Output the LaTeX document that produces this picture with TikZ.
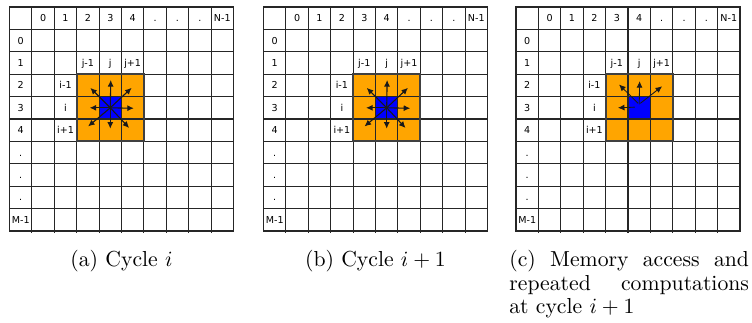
\documentclass[tikz,border=0pt]{standalone}
\usepackage{fontspec}
\newfontfamily\gridfont{DejaVu Sans}
\usetikzlibrary{arrows.meta}
\definecolor{cellorange}{RGB}{255,165,0}
\definecolor{cellblue}{RGB}{0,0,255}

% one 10x10 memory grid: #1 name prefix, #2 x shift, #3 column of the 3x3 block
\newcommand{\memgrid}[3]{%
  \begin{scope}[shift={(#2,0.3125)}]
    \fill[cellorange] (#3,3) rectangle ++(3,3);
    \fill[cellblue] (#3+1,4) rectangle ++(1,1);
    \foreach \k in {1,...,9} {
      \draw[gridline] (\k,0) -- (\k,10.09);
      \draw[gridline] (0,\k) -- (10,\k);
    }
    \draw[gridline] (0,0) rectangle (10,10);
    \draw[blockline] (#3,3) rectangle ++(3,3);
    \foreach \t [count=\k] in {0,1,2,3,4,.,.,.,N-1}
      \node[celltext] (#1col\k) at (\k+0.5,0.5) {\t};
    \foreach \t [count=\k] in {0,1,2,3,4,.,.,.,M-1}
      \node[celltext] (#1row\k) at (0.5,\k+0.5) {\t};
    \node[celltext] (#1jm) at (#3+0.5,2.5) {j-1};
    \node[celltext] (#1j)  at (#3+1.5,2.5) {j};
    \node[celltext] (#1jp) at (#3+2.5,2.5) {j+1};
    \node[celltext] (#1im) at (#3-0.5,3.5) {i-1};
    \node[celltext] (#1i)  at (#3-0.5,4.5) {i};
    \node[celltext] (#1ip) at (#3-0.5,5.5) {i+1};
    \coordinate (#1ctr) at (#3+1.5,4.5);
  \end{scope}}

\begin{document}
\begin{tikzpicture}[x=10.32pt,y=-10.32pt,
    gridline/.style={line width=0.5pt,black!85},
    blockline/.style={line width=0.85pt,black!75},
    celltext/.style={inner sep=0pt,text height=3.15pt,text depth=0pt,
                     font=\gridfont\fontsize{4.4}{5}\selectfont},
    spoke/.style={line width=0.5pt,black!90,-{Latex[length=3pt,width=2.8pt]}},
    caption/.style={inner sep=0pt,font=\fontsize{10}{10.9}\selectfont}]
  \useasboundingbox (0,0) rectangle (33.571,14.375);

  \memgrid{a}{0.424}{3}
  \memgrid{b}{11.763}{4}
  \memgrid{c}{23.036}{4}

  % all eight neighbours
  \foreach \g in {a,b}
    \foreach \dx/\dy [count=\n] in {0.02/-1.24,0.95/-0.89,1.05/0.02,0.84/0.9,
                                    0/0.93,-0.99/0.83,-0.92/0,-0.89/-0.89} {
      \coordinate (\g tip\n) at ([shift={(\dx,\dy)}]\g ctr);
      \draw[spoke] (\g ctr) -- (\g tip\n);
    }

  % only the new accesses
  \foreach \sx/\sy/\dx/\dy [count=\n] in {0/-0.15/0.02/-1.19,-0.05/-0.2/-0.9/-1.04,
                                          0.05/-0.2/1.02/-0.96,-0.2/-0.03/-0.95/0} {
    \coordinate (cbase\n) at ([shift={(\sx,\sy)}]cctr);
    \coordinate (ctip\n) at ([shift={(\dx,\dy)}]cctr);
    \draw[spoke,line width=0.4pt] (cbase\n) -- (ctip\n);
  }

  \node[caption,anchor=base] (capa) at (5.424,11.875) {(a) Cycle $i$};
  \node[caption,anchor=base] (capb) at (16.763,11.875) {(b) Cycle $i+1$};
  \node[caption,anchor=north west,text width=110.4pt,align=justify] (capc) at (22.72,11.147)
    {\tolerance=10000\hbadness=10000\hyphenpenalty=10000
     (c) Memory access and\linebreak repeated computations\linebreak at cycle $i+1$};
\end{tikzpicture}
\end{document}
